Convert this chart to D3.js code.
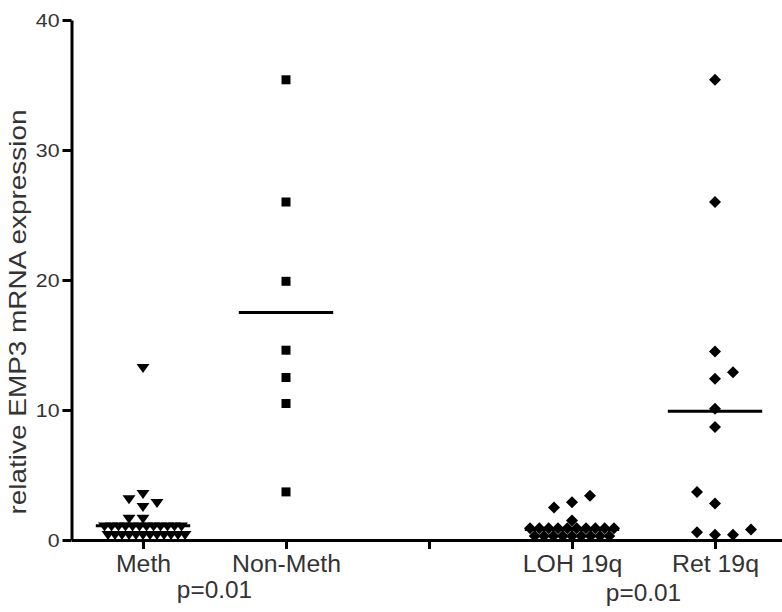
<!DOCTYPE html>
<html>
<head>
<meta charset="utf-8">
<script src="https://cdn.jsdelivr.net/npm/d3@7"></script>
<style>
  body { margin: 0; background: #fff; }
  text { font-family: "Liberation Sans", Arial, sans-serif; fill: #333; }
</style>
</head>
<body>
<div id="chart"></div>
<script>
// values, listed left to right inside each cluster
var groups = ["Meth", "Non-Meth", "LOH 19q", "Ret 19q"];
var groupPos = [1, 2, 4, 5];
var tickPos = [1, 2, 3, 4, 5];
var tickLabels = ["Meth", "Non-Meth", "", "LOH 19q", "Ret 19q"];
var yTicks = [0, 10, 20, 30, 40];

var methValues = [13.2, 3.1, 2.5, 2.8, 3.5, 1.6, 1.6,
  1.0, 0.35, 1.0, 0.35, 1.0, 0.35, 1.0, 0.35, 1.0, 0.35, 1.0, 0.35,
  1.0, 0.35, 1.0, 0.35, 1.0, 0.35, 1.0, 0.35, 1.0, 0.35, 1.0, 0.35];
var nonMethValues = [35.4, 26.0, 19.9, 14.6, 12.5, 10.5, 3.7];
var lohValues = [2.5, 2.9, 3.4, 1.5,
  0.9, 0.3, 0.9, 0.3, 0.9, 0.3, 0.9, 0.3, 0.9, 0.3,
  0.9, 0.3, 0.9, 0.3, 0.9, 0.3, 0.9, 0.3, 0.9];
var retValues = [35.4, 26.0, 14.5, 12.4, 12.9, 10.1, 8.7, 3.7, 2.8, 0.6, 0.4, 0.4, 0.8];
var groupMeans = [1.1, 17.5, 0.8, 9.9];

var pLabels = ["p=0.01", "p=0.01"];
var pPos = [1.5, 4.5];

var W = 782, H = 612;

var svg = d3.select("#chart").append("svg")
  .attr("width", W).attr("height", H);

var x = d3.scaleLinear().domain([0.5, 5.5]).range([71.5, 786.5]);
var y = d3.scaleLinear().domain([0, 40]).range([540, 20]);

// marker shapes: down triangle, square, diamond
var markers = [
  { path: "M-6.5,-4.5L6.5,-4.5L0,4.5Z", d: 14, h: 10 },
  { path: "M-4.5,-4.5H4.5V4.5H-4.5Z", d: 12, h: 10 },
  { path: "M0,-6L6,0L0,6L-6,0Z", d: 18, h: 12.5 },
  { path: "M0,-6L6,0L0,6L-6,0Z", d: 18, h: 12.5 }
];
var allValues = [methValues, nonMethValues, lohValues, retValues];
var maxHalf = 42;

// bin close values and spread each bin sideways, like a scatter dot plot
function spread(values, d, h) {
  var items = values.map(function (v, i) { return { v: v, i: i, py: y(v) }; });
  var sorted = items.slice().sort(function (a, b) { return a.v - b.v || a.i - b.i; });
  var bins = [], cur = null;
  sorted.forEach(function (p) {
    if (cur && cur[0].py - p.py < h) cur.push(p);
    else { cur = [p]; bins.push(cur); }
  });
  var right = 0, left = 0;
  bins.forEach(function (bin) {
    var ks = [0], first = 1;
    for (var j = 1; j < bin.length; j++) {
      var k = Math.ceil(j / 2);
      if (j % 2 === 1) { first = right <= left ? 1 : -1; ks.push(first * k); }
      else ks.push(-first * k);
      if (ks[j] > 0) right++; else left++;
    }
    var maxK = d3.max(ks, Math.abs) || 1;
    var s = Math.min(d, maxHalf / maxK);
    ks.sort(d3.ascending);
    bin.sort(function (a, b) { return a.i - b.i; });
    bin.forEach(function (p, m) { p.off = ks[m] * s; });
  });
  return items;
}

// Add dots
groups.forEach(function (g, i) {
  var m = markers[i];
  var pts = spread(allValues[i], m.d, m.h);
  svg.append("g").selectAll("path")
    .data(pts)
    .enter()
    .append("path")
    .attr("d", m.path)
    .attr("transform", function (p) { return "translate(" + (x(groupPos[i]) + p.off) + "," + p.py + ")"; })
    .style("fill", "#000");
});

// Add mean lines
svg.append("g").selectAll("line")
  .data(groupMeans)
  .enter()
  .append("line")
  .attr("x1", function (v, i) { return x(groupPos[i] - 0.33); })
  .attr("x2", function (v, i) { return x(groupPos[i] + 0.33); })
  .attr("y1", function (v) { return y(v); })
  .attr("y2", function (v) { return y(v); })
  .style("stroke", "#000")
  .style("stroke-width", 3);

// stretch text sideways a bit, the figure is wider than tall
function widen(sel, f) {
  sel.each(function () {
    var len = this.getComputedTextLength();
    if (len > 0) d3.select(this).attr("textLength", len * f).attr("lengthAdjust", "spacingAndGlyphs");
  });
}

// Add X axis
var xAxis = svg.append("g")
  .attr("transform", "translate(0,540)")
  .call(d3.axisBottom(x).tickValues(tickPos)
    .tickFormat(function (d, i) { return tickLabels[i]; })
    .tickSize(9).tickSizeOuter(0).tickPadding(7));

// Add Y axis
var yAxis = svg.append("g")
  .attr("transform", "translate(71.5,0)")
  .call(d3.axisLeft(y).tickValues(yTicks).tickSize(9).tickSizeOuter(0).tickPadding(3));

[xAxis, yAxis].forEach(function (a) {
  a.select(".domain").style("stroke", "#000").style("stroke-width", 3);
  a.selectAll(".tick line").style("stroke", "#000").style("stroke-width", 3);
  a.selectAll("text").style("font-family", "\"Liberation Sans\", Arial, sans-serif").style("fill", "#333");
});
xAxis.selectAll("text").style("font-size", "23px");
yAxis.selectAll("text").style("font-size", "19px");
widen(xAxis.selectAll("text"), 1.08);
widen(yAxis.selectAll("text"), 1.12);

// p values
var pText = svg.append("g").selectAll("text")
  .data(pLabels)
  .enter()
  .append("text")
  .attr("x", function (d, i) { return x(pPos[i]); })
  .attr("y", function (d, i) { return 598 + i * 3; })
  .attr("text-anchor", "middle")
  .style("font-size", "23px")
  .text(function (d) { return d; });
widen(pText, 1.06);

// Add Y label
svg.append("text")
  .attr("transform", "translate(26,312) rotate(-90)")
  .attr("text-anchor", "middle")
  .style("font-size", "24px")
  .attr("textLength", 405)
  .attr("lengthAdjust", "spacingAndGlyphs")
  .text("relative EMP3 mRNA expression");
</script>
</body>
</html>
